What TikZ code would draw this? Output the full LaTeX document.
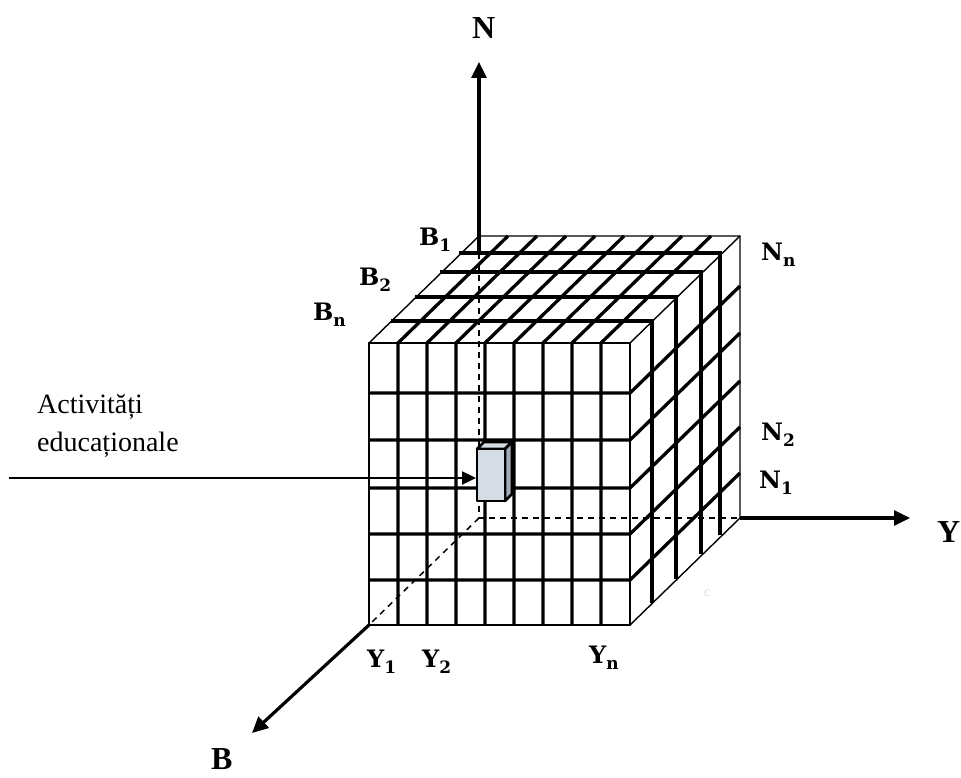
\documentclass[tikz,border=0pt]{standalone}
\usepackage{fontspec}
\setmainfont{Liberation Serif}
\newfontfamily\labfont{DejaVu Serif}
\usetikzlibrary{arrows.meta}
\definecolor{boxface}{HTML}{D6DCE4}
\definecolor{boxside}{HTML}{A3ABB7}
\newcommand{\lab}[2]{{\labfont\bfseries\fontsize{24}{24}\selectfont #1\raisebox{-6pt}{\fontsize{17}{17}\selectfont #2}}}
\tikzset{
  gridline/.style={line width=3.3pt},
  edgeline/.style={line width=1.4pt},
  hidden/.style={line width=1.5pt, dash pattern=on 6pt off 5pt},
  axisline/.style={line width=3.2pt, -{Triangle[length=16pt,width=15pt]}},
  actline/.style={line width=2.4pt, -{Triangle[length=14pt,width=13pt]}},
  lbl/.style={anchor=base west, inner sep=0pt},
  bigl/.style={anchor=base west, inner sep=0pt, font=\bfseries\fontsize{32}{32}\selectfont},
  txt/.style={anchor=base west, inner sep=0pt, font=\fontsize{28}{28}\selectfont}
}
\begin{document}
\begin{tikzpicture}[x=1pt,y=-1pt]
\useasboundingbox (0,0) rectangle (961,778);
% key corners
\coordinate (FTL) at (369,343);
\coordinate (FTR) at (630,343);
\coordinate (FBL) at (369,625);
\coordinate (FBR) at (630,625);
\coordinate (BTL) at (479,236);
\coordinate (BTR) at (740,236);
\coordinate (BBR) at (740,518);
\coordinate (BBL) at (479,518);
\coordinate (Nstart) at (479,253);
\coordinate (Ntip) at (479,62);
\coordinate (Ytip) at (910,518);
\coordinate (Btip) at (252,733);
\coordinate (Astart) at (9,478);
% front vertical grid lines continuing over the top
\foreach \k in {1,...,8} {
  \draw[gridline] (369+29*\k,625) -- (369+29*\k,343) -- ++(110,-107);
}
% front horizontal grid lines continuing over the side
\foreach \yy in {393,440,488,534,580} {
  \draw[gridline] (369,\yy) -- (630,\yy) -- ++(110,-107);
}
% top layers bending down the side
\foreach \d in {22,46,71,90} {
  \draw[gridline] (369+\d,343-\d) -- (630+\d,343-\d) -- (630+\d,625-\d);
}
% outline
\draw[edgeline] (FTL) rectangle (FBR);
\draw[edgeline] (FTL) -- (BTL) -- (BTR) -- (BBR) -- (FBR);
\draw[edgeline] (FTR) -- (BTR);
% hidden edges
\draw[hidden] (Nstart) -- (BBL) -- (BBR);
\draw[hidden] (BBL) -- (FBL);
% axes
\draw[axisline] (Nstart) -- (Ntip);
\draw[axisline] (BBR) -- (Ytip);
\draw[axisline] (FBL) -- (Btip);
% small activity box
\draw[line width=2.6pt, line join=round, fill=boxface] (484,442) -- (512,442) -- (505,449) -- (477,449) -- cycle;
\draw[line width=2.6pt, line join=round, fill=boxside] (505,449) -- (512,442) -- (512,494) -- (505,501) -- cycle;
\draw[line width=2.6pt, line join=round, fill=boxface] (477,449) rectangle (505,501);
\coordinate (Abox) at (476,478);
\draw[actline] (Astart) -- (Abox);
% labels
\node[bigl] (lN) at (472,39) {N};
\node[bigl] (lY) at (937,542) {Y};
\node[bigl] (lB) at (211,769) {B};
\node[lbl] (lB1) at (419,245) {\lab{B}{1}};
\node[lbl] (lB2) at (359,285) {\lab{B}{2}};
\node[lbl] (lBn) at (313,320) {\lab{B}{n}};
\node[lbl] (lNn) at (761,260) {\lab{N}{n}};
\node[lbl] (lN2) at (761,440) {\lab{N}{2}};
\node[lbl] (lN1) at (759,488) {\lab{N}{1}};
\node[lbl] (lY1) at (367,667) {\lab{Y}{1}};
\node[lbl] (lY2) at (422,667) {\lab{Y}{2}};
\node[lbl] (lYn) at (589,663) {\lab{Y}{n}};
\node[txt] (t1) at (37,413) {Activități};
\node[txt] (t2) at (37,451) {educaționale};
\node[anchor=base west, inner sep=0pt, text=black!15, font=\fontsize{14}{14}\selectfont] (smudge) at (704,596) {c};
\end{tikzpicture}
\end{document}
